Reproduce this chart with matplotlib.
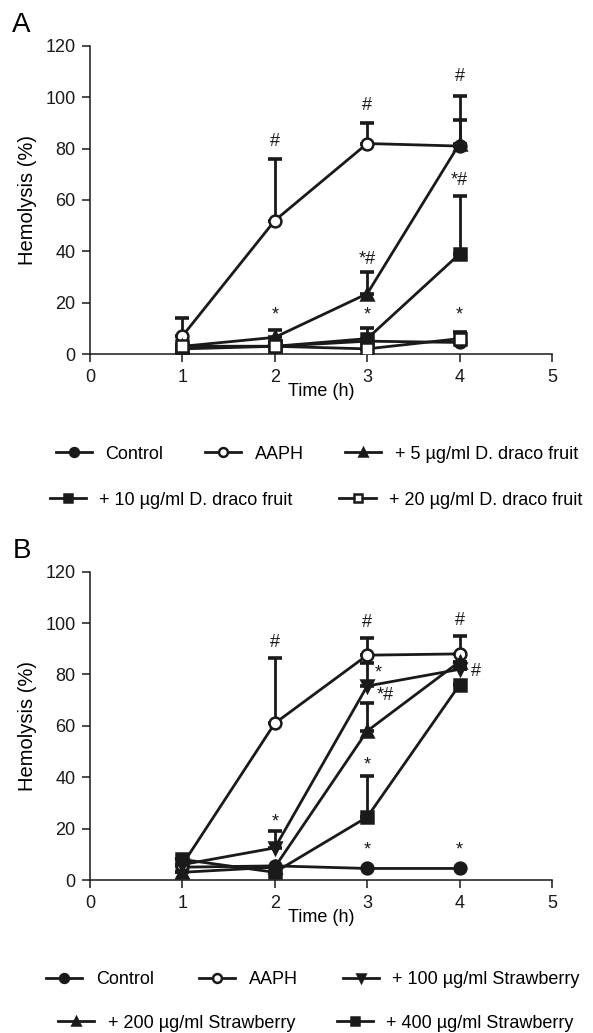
import matplotlib
matplotlib.use("Agg")
import matplotlib.pyplot as plt

plt.rcParams['font.family'] = ['Liberation Sans', 'DejaVu Sans']
plt.rcParams['font.size'] = 13

time = [1, 2, 3, 4]

# Panel A
a_labels = ["Control", "AAPH", "+ 5 \u00b5g/ml D. draco fruit",
            "+ 10 \u00b5g/ml D. draco fruit", "+ 20 \u00b5g/ml D. draco fruit"]
a_control = [3, 3, 5, 4.5]
a_aaph = [7, 52, 82, 81]
a_aaph_err = [7, 24, 8, 19.5]
a_5 = [3, 6.5, 23.5, 82]
a_5_err = [0, 3, 8.5, 9]
a_10 = [2, 3, 6, 39]
a_10_err = [0, 0, 4, 22.5]
a_20 = [3, 3, 2, 6]
a_20_err = [0, 0, 0, 2.5]

# Panel B
b_labels = ["Control", "AAPH", "+ 100 \u00b5g/ml Strawberry",
            "+ 200 \u00b5g/ml Strawberry", "+ 400 \u00b5g/ml Strawberry"]
b_control = [5, 5.5, 4.5, 4.5]
b_aaph = [6, 61, 87.5, 88]
b_aaph_err = [0, 25.5, 6.5, 7]
b_100 = [6, 12.5, 75.5, 82]
b_100_err = [0, 6.5, 9, 0]
b_200 = [3, 5, 58, 85]
b_200_err = [0, 0, 11, 0]
b_400 = [8, 3, 24.5, 76]
b_400_err = [0, 0, 16, 0]

# significance annotations (x, y, text)
a_marks = [(2, 82.7, "#"), (3, 96.8, "#"), (4, 108.3, "#"), (3, 36.8, "*#"), (4, 67.4, "*#"),
           (2, 15.3, "*"), (3, 15.3, "*"), (4, 15.3, "*")]
b_marks = [(2, 92.6, "#"), (3, 100.3, "#"), (4, 101, "#"), (3.12, 80.5, "*"), (3.19, 71.8, "*#"),
           (4.18, 81.2, "#"), (3, 44.9, "*"), (2, 22.7, "*"), (3, 11.6, "*"), (4, 11.6, "*")]

K = '#1a1a1a'
LW = 2.0
MS = 8.5


def draw(ax, series, marks):
    handles = []
    for vals, err, marker, mfc in series:
        if err is not None:
            ax.errorbar(time, vals, yerr=[[0] * 4, err], fmt='none', ecolor=K,
                        elinewidth=LW, capsize=5, capthick=2.6, zorder=2)
        h, = ax.plot(time, vals, color=K, lw=LW, marker=marker, ms=MS,
                     mfc=mfc, mec=K, mew=1.8, zorder=3)
        handles.append(h)
    for x, y, t in marks:
        ax.text(x, y, t, ha='center', va='center', fontsize=13, color=K)
    ax.set_xlim(0, 5)
    ax.set_ylim(0, 120)
    ax.set_xticks([0, 1, 2, 3, 4, 5])
    ax.set_yticks([0, 20, 40, 60, 80, 100, 120])
    ax.spines['top'].set_visible(False)
    ax.spines['right'].set_visible(False)
    for s in ['left', 'bottom']:
        ax.spines[s].set_linewidth(1.1)
        ax.spines[s].set_color(K)
    ax.tick_params(direction='out', length=6, width=1.1, colors=K, labelsize=13, pad=4.5)
    ax.set_xlabel("Time (h)", fontsize=13, labelpad=-2)
    ax.set_ylabel("Hemolysis (%)", fontsize=14.5, labelpad=6)
    return handles


fig = plt.figure(figsize=(5.93, 10.33), dpi=100)
axA = fig.add_axes([0.1518, 0.6573, 0.7791, 0.2982])
axB = fig.add_axes([0.1518, 0.1481, 0.7791, 0.2985])

hA = draw(axA, [(a_control, None, 'o', K), (a_aaph, a_aaph_err, 'o', 'white'),
                (a_5, a_5_err, '^', K), (a_10, a_10_err, 's', K),
                (a_20, a_20_err, 's', 'white')], a_marks)
hB = draw(axB, [(b_control, None, 'o', K), (b_aaph, b_aaph_err, 'o', 'white'),
                (b_100, b_100_err, 'v', K), (b_200, b_200_err, '^', K),
                (b_400, b_400_err, 's', K)], b_marks)

fig.text(21 / 593, 1 - 25 / 1033, "A", fontsize=20, va='center', ha='center')
fig.text(22 / 593, 1 - 551 / 1033, "B", fontsize=20, va='center', ha='center')

legkw = dict(frameon=False, handlelength=2.0, handletextpad=0.75, markerscale=0.75,
             fontsize=13, loc='center', borderpad=0, borderaxespad=0)
fig.legend(hA[:3], a_labels[:3], ncol=3, columnspacing=2.3,
           bbox_to_anchor=(317 / 593, 1 - 454 / 1033), **legkw)
fig.legend(hA[3:], a_labels[3:], ncol=2, columnspacing=2.6,
           bbox_to_anchor=(316 / 593, 1 - 500 / 1033), **legkw)
fig.legend(hB[:3], b_labels[:3], ncol=3, columnspacing=2.5,
           bbox_to_anchor=(313 / 593, 1 - 980 / 1033), **legkw)
fig.legend(hB[3:], b_labels[3:], ncol=2, columnspacing=2.3,
           bbox_to_anchor=(316 / 593, 1 - 1023 / 1033), **legkw)

fig.savefig("out.png", dpi=100)
